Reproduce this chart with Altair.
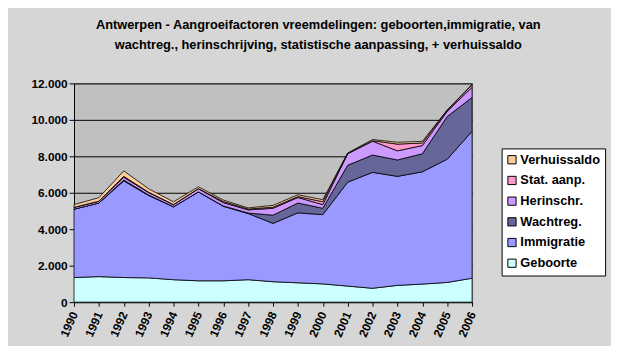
import altair as alt
import pandas as pd

years = list(range(1990, 2007))
series_names = ["Geboorte", "Immigratie", "Wachtreg.", "Herinschr.", "Stat. aanp.", "Verhuissaldo"]
colors = ["#CCFFFF", "#9999FF", "#666699", "#CC99FF", "#FF99CC", "#FFCC99"]

geboorte = [1350, 1400, 1350, 1330, 1230, 1170, 1170, 1230, 1120, 1060, 1000, 880, 760, 920, 990, 1080, 1310]
immigratie = [3750, 4040, 5300, 4520, 4000, 4880, 4090, 3630, 3200, 3840, 3800, 5700, 6360, 5980, 6160, 6760, 8060]
wachtreg = [0, 0, 50, 30, 0, 0, 20, 30, 450, 540, 350, 930, 950, 900, 990, 2340, 1860]
herinschr = [100, 100, 150, 130, 120, 170, 180, 170, 380, 300, 200, 630, 760, 500, 450, 280, 560]
stat_aanp = [0, 0, 50, 20, 0, 10, 60, 50, 60, 50, 160, 20, 30, 370, 140, 60, 130]
verhuissaldo = [150, 190, 300, 190, 150, 100, 80, 60, 100, 100, 110, 20, 60, 100, 90, 20, 30]

all_series = [geboorte, immigratie, wachtreg, herinschr, stat_aanp, verhuissaldo]

rows = []
for k, (name, vals) in enumerate(zip(series_names, all_series)):
    for yr, v in zip(years, vals):
        rows.append({"Jaar": yr, "Reeks": name, "Aantal": v, "volgorde": k})
df = pd.DataFrame(rows)

legend_order = list(reversed(series_names))
legend_colors = list(reversed(colors))

font = "Liberation Sans"

chart = alt.Chart(df).mark_area(stroke="black", strokeWidth=0.8, opacity=1).encode(
    x=alt.X("Jaar:Q",
            scale=alt.Scale(domain=[1990, 2006], nice=False, zero=False),
            axis=alt.Axis(title=None, values=years, format="d", labelAngle=294,
                          labelFont=font, labelFontSize=12, labelFontWeight="bold",
                          labelColor="black", domainColor="black", tickColor="black",
                          tickSize=4, grid=False, labelPadding=6)),
    y=alt.Y("Aantal:Q", stack="zero",
            scale=alt.Scale(domain=[0, 12000]),
            axis=alt.Axis(title=None, values=[0, 2000, 4000, 6000, 8000, 10000, 12000],
                          labelExpr="replace(format(datum.value, ',d'), ',', '.')",
                          labelFont=font, labelFontSize=12, labelFontWeight="bold",
                          labelColor="black", domainColor="black", tickColor="black",
                          tickSize=5, grid=True, gridColor="black", gridWidth=1)),
    color=alt.Color("Reeks:N",
                    scale=alt.Scale(domain=legend_order, range=legend_colors),
                    legend=alt.Legend(title=None, orient="none", legendX=434, legendY=66,
                                      symbolType="square", symbolSize=70,
                                      symbolStrokeColor="black", symbolStrokeWidth=1,
                                      labelFont=font, labelFontSize=13, labelFontWeight="bold",
                                      labelColor="black", rowPadding=7,
                                      fillColor="white", strokeColor="black",
                                      padding=5, symbolOffset=-1, labelOffset=2)),
    order=alt.Order("volgorde:Q", sort="ascending"),
).properties(
    width=404,
    height=222,
    padding={"left": 23, "top": 9, "right": 5, "bottom": 5},
    title=alt.TitleParams(
        text=["Antwerpen - Aangroeifactoren vreemdelingen: geboorten,immigratie, van",
              "wachtreg., herinschrijving, statistische aanpassing, + verhuissaldo"],
        font=font, fontSize=13, fontWeight="bold", color="black",
        anchor="middle", frame="bounds", lineHeight=20, offset=26),
    background="#D6D6D6",
).configure_view(fill="#C0C0C0", stroke="#808080")

chart.save("out.html", embed_options={"renderer": "svg", "actions": False})
